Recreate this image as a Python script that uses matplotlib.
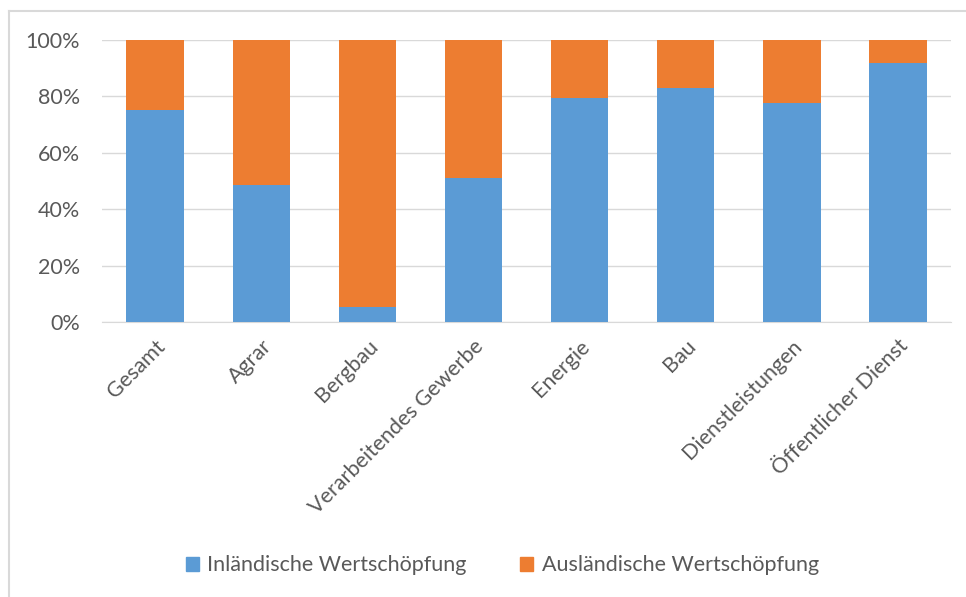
import numpy as np
import matplotlib.pyplot as plt
from matplotlib.ticker import PercentFormatter
from matplotlib.lines import Line2D

categories = ["Gesamt", "Agrar", "Bergbau", "Verarbeitendes Gewerbe", "Energie",
              "Bau", "Dienstleistungen", "Öffentlicher Dienst"]
inland = [75.2, 48.5, 5.2, 51.2, 79.3, 83.1, 77.5, 91.7]
ausland = [100 - v for v in inland]
series_names = ["Inländische Wertschöpfung", "Ausländische Wertschöpfung"]
yticks = [0, 20, 40, 60, 80, 100]

plt.rcParams['font.family'] = ['Lato', 'DejaVu Sans']
grey = '#595959'
fs = 15.5

fig = plt.figure(figsize=(9.66, 5.97), dpi=100)
ax = fig.add_axes([0.1056, 0.4606, 0.879, 0.4724])

x = np.arange(len(categories))
w = 0.54
ax.bar(x, inland, w, color='#5B9BD5', label=series_names[0], zorder=3)
ax.bar(x, ausland, w, bottom=inland, color='#ED7D31', label=series_names[1], zorder=3)

ax.set_xlim(-0.5, len(categories) - 0.5)
ax.set_ylim(0, 100)
ax.set_yticks(yticks)
ax.yaxis.set_major_formatter(PercentFormatter(decimals=0))
ax.grid(axis='y', color='#d9d9d9', linewidth=1, zorder=0)
for s in ['top', 'right', 'left']:
    ax.spines[s].set_visible(False)
ax.spines['bottom'].set_color('#d9d9d9')
ax.tick_params(axis='both', length=0, labelsize=fs, labelcolor=grey)
ax.tick_params(axis='y', pad=16)
ax.set_xticks(x)
ax.set_xticklabels(categories, rotation=45, ha='right', va='top', rotation_mode='anchor')
ax.tick_params(axis='x', pad=10)

handles = [plt.Rectangle((0, 0), 1, 1, color='#5B9BD5'),
           plt.Rectangle((0, 0), 1, 1, color='#ED7D31')]
fig.legend(handles, series_names, loc='center', bbox_to_anchor=(0.52, 0.053), ncol=2,
           frameon=False, fontsize=fs, labelcolor=grey, handlelength=0.6,
           handleheight=0.6, handletextpad=0.4, columnspacing=2.5)

# chart frame (left and top visible)
fig.add_artist(Line2D([0.0093, 0.0093], [0, 0.982], color='#d9d9d9', linewidth=1.5))
fig.add_artist(Line2D([0.0093, 1.0], [0.982, 0.982], color='#d9d9d9', linewidth=1.5))

fig.savefig('out.png', dpi=100)
